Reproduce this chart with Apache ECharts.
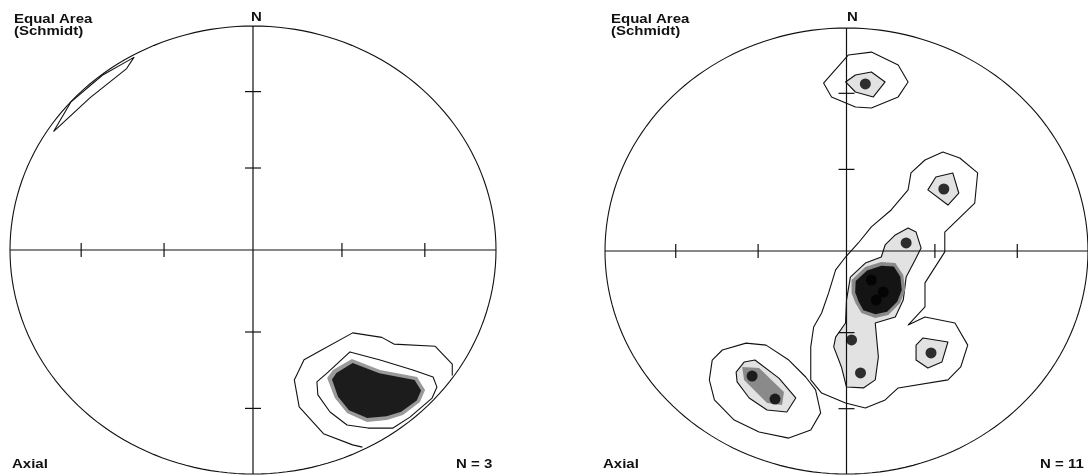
<!DOCTYPE html>
<html>
<head>
<meta charset="utf-8">
<script src="https://cdn.jsdelivr.net/npm/echarts@6/dist/echarts.min.js"></script>
<style>
html,body{margin:0;padding:0;background:#fff;}
#chart{width:1088px;height:476px;}
</style>
</head>
<body>
<div id="chart"></div>
<script>
// ---------- DATA (projected equal-area coordinates, unit circle = primitive) ----------
const tickAngles = [30, 60];            // dip ticks along the axes (degrees)
const projectionLabel = ['Equal Area', '(Schmidt)'];
const modeLabel = 'Axial';
const northLabel = 'N';
const countLeft = 3;
const countRight = 11;

// Left net: contour lines / levels
const leftLevel1 = [[0.82,-0.56],[0.82,-0.51],[0.75,-0.43],[0.58,-0.42],[0.53,-0.39],[0.41,-0.37],[0.26,-0.46],[0.21,-0.49],[0.17,-0.58],[0.19,-0.70],[0.29,-0.82],[0.41,-0.87],[0.45,-0.88]];
const leftLevel1Wrap = [[-0.49,0.86],[-0.52,0.81],[-0.67,0.68],[-0.79,0.56],[-0.82,0.53],[-0.75,0.66],[-0.62,0.78],[-0.49,0.86]];
const leftLevel2 = [[0.263,-0.589],[0.309,-0.545],[0.399,-0.455],[0.523,-0.491],[0.658,-0.536],[0.741,-0.567],[0.757,-0.612],[0.737,-0.661],[0.646,-0.746],[0.576,-0.795],[0.473,-0.795],[0.387,-0.781],[0.317,-0.723],[0.267,-0.647]];
const leftLevel3 = [[0.305,-0.571],[0.329,-0.536],[0.407,-0.487],[0.523,-0.536],[0.675,-0.567],[0.708,-0.625],[0.687,-0.679],[0.617,-0.737],[0.551,-0.759],[0.469,-0.768],[0.387,-0.728],[0.337,-0.661]];
const leftLevel4 = [[0.325,-0.578],[0.343,-0.549],[0.410,-0.505],[0.520,-0.550],[0.665,-0.580],[0.692,-0.627],[0.674,-0.672],[0.610,-0.722],[0.550,-0.742],[0.470,-0.750],[0.395,-0.715],[0.350,-0.655]];

// Right net: poles (N = 11)
const rightPoles = [[0.078,0.749],[0.403,0.278],[0.247,0.036],[0.103,-0.130],[0.152,-0.184],[0.123,-0.220],[0.021,-0.399],[0.058,-0.547],[0.350,-0.457],[-0.391,-0.561],[-0.296,-0.664]];

// Right net: contour levels
const rightLevel1 = [
  [[0.267,0.350],[0.325,0.408],[0.399,0.444],[0.469,0.417],[0.543,0.350],[0.531,0.215],[0.407,0.085],[0.407,-0.004],[0.325,-0.143],[0.325,-0.251],[0.255,-0.332],[0.325,-0.296],[0.449,-0.323],[0.502,-0.422],[0.473,-0.520],[0.420,-0.578],[0.214,-0.614],[0.160,-0.668],[0.078,-0.704],[-0.004,-0.682],[-0.103,-0.637],[-0.148,-0.578],[-0.148,-0.430],[-0.136,-0.341],[-0.103,-0.278],[-0.074,-0.188],[-0.045,-0.085],[-0.004,-0.027],[0.049,0.036],[0.103,0.108],[0.185,0.184],[0.255,0.274]],
  [[-0.095,0.753],[0.008,0.879],[0.103,0.892],[0.214,0.834],[0.255,0.758],[0.214,0.691],[0.103,0.641],[0.037,0.646],[-0.062,0.691]],
  [[-0.556,-0.489],[-0.514,-0.444],[-0.416,-0.413],[-0.333,-0.422],[-0.239,-0.489],[-0.169,-0.565],[-0.128,-0.623],[-0.107,-0.726],[-0.148,-0.803],[-0.239,-0.839],[-0.362,-0.812],[-0.465,-0.758],[-0.547,-0.668],[-0.568,-0.578]]
];
const rightLevel2 = [
  [[0.160,0.027],[0.202,0.072],[0.255,0.103],[0.288,0.085],[0.309,0.013],[0.284,-0.040],[0.247,-0.117],[0.235,-0.220],[0.202,-0.296],[0.119,-0.323],[0.132,-0.475],[0.119,-0.578],[0.070,-0.614],[0.000,-0.610],[-0.021,-0.520],[-0.053,-0.430],[-0.045,-0.386],[-0.004,-0.323],[0.000,-0.220],[0.016,-0.117],[0.078,-0.054],[0.144,-0.027]],
  [[0.337,0.274],[0.370,0.332],[0.440,0.350],[0.465,0.260],[0.420,0.206]],
  [[0.288,-0.422],[0.317,-0.390],[0.420,-0.408],[0.395,-0.498],[0.337,-0.525],[0.288,-0.489]],
  [[-0.004,0.758],[0.037,0.789],[0.103,0.803],[0.160,0.758],[0.111,0.691],[0.037,0.713]],
  [[-0.457,-0.543],[-0.424,-0.498],[-0.379,-0.489],[-0.280,-0.570],[-0.210,-0.659],[-0.247,-0.722],[-0.329,-0.713],[-0.403,-0.659],[-0.453,-0.587]]
];
const rightLevel3 = [
  [[0.021,-0.130],[0.078,-0.072],[0.144,-0.049],[0.202,-0.054],[0.235,-0.108],[0.243,-0.175],[0.222,-0.233],[0.173,-0.287],[0.119,-0.300],[0.062,-0.278],[0.037,-0.233],[0.021,-0.188]],
  [[-0.432,-0.520],[-0.362,-0.525],[-0.259,-0.632],[-0.267,-0.691],[-0.329,-0.682],[-0.424,-0.578]]
];
const rightLevel4 = [
  [[0.038,-0.135],[0.085,-0.088],[0.145,-0.066],[0.196,-0.070],[0.223,-0.115],[0.229,-0.175],[0.210,-0.228],[0.168,-0.272],[0.120,-0.284],[0.070,-0.266],[0.050,-0.226],[0.036,-0.185]]
];

// ---------- RENDERING ----------
const chart = echarts.init(document.getElementById('chart'), null, {renderer: 'canvas'});
const INK = '#111';

function netSeries(gi) {
  return {
    type: 'custom', xAxisIndex: gi, yAxisIndex: gi, silent: true, z: 5,
    data: [[0, 0]],
    renderItem: function (params, api) {
      const c = api.coord([0, 0]);
      const s = api.size([1, 1]);
      const pts = [];
      for (let a = 0; a <= 360; a += 2) {
        const t = a * Math.PI / 180;
        pts.push([c[0] + s[0] * Math.cos(t), c[1] - s[1] * Math.sin(t)]);
      }
      const children = [
        {type: 'polyline', shape: {points: pts}, style: {stroke: INK, lineWidth: 1.1, fill: null}},
        {type: 'line', shape: {x1: c[0] - s[0], y1: c[1], x2: c[0] + s[0], y2: c[1]}, style: {stroke: INK, lineWidth: 1.2}},
        {type: 'line', shape: {x1: c[0], y1: c[1] - s[1], x2: c[0], y2: c[1] + s[1]}, style: {stroke: INK, lineWidth: 1.2}}
      ];
      tickAngles.forEach(function (d) {
        const r = Math.SQRT2 * Math.sin(d / 2 * Math.PI / 180);
        [-1, 1].forEach(function (sg) {
          const px = api.coord([sg * r, 0]);
          children.push({type: 'line', shape: {x1: px[0], y1: px[1] - 7, x2: px[0], y2: px[1] + 7}, style: {stroke: INK, lineWidth: 1.2}});
          const py = api.coord([0, sg * r]);
          children.push({type: 'line', shape: {x1: py[0] - 8, y1: py[1], x2: py[0] + 8, y2: py[1]}, style: {stroke: INK, lineWidth: 1.2}});
        });
      });
      return {type: 'group', children: children};
    }
  };
}

function contourSeries(gi, polys, fill, stroke, closed, z) {
  return {
    type: 'custom', xAxisIndex: gi, yAxisIndex: gi, silent: true, z: z,
    data: polys.map(function () { return [0, 0]; }),
    renderItem: function (params, api) {
      const pts = polys[params.dataIndex].map(function (p) { return api.coord(p); });
      return {
        type: closed ? 'polygon' : 'polyline',
        shape: {points: pts},
        style: {fill: closed ? fill : null, stroke: stroke, lineWidth: 1.1, lineJoin: 'round'}
      };
    }
  };
}

const textFont = 'bold 15px "Liberation Sans", Arial, sans-serif';
function label(x, y, text) {
  return {type: 'text', x: x, y: y, scaleY: 0.82, silent: true,
    style: {text: text, font: textFont, fill: INK, textAlign: 'left', textVerticalAlign: 'top'}};
}

const option = {
  animation: false,
  backgroundColor: '#fff',
  grid: [
    {left: 10, top: 26, width: 486, height: 448},
    {left: 605, top: 28, width: 486, height: 446}
  ],
  xAxis: [
    {gridIndex: 0, type: 'value', min: -1, max: 1, show: false},
    {gridIndex: 1, type: 'value', min: -1, max: 1, show: false}
  ],
  yAxis: [
    {gridIndex: 0, type: 'value', min: -1, max: 1, show: false},
    {gridIndex: 1, type: 'value', min: -1, max: 1, show: false}
  ],
  graphic: [
    label(14, 13, projectionLabel[0]), label(14, 25, projectionLabel[1]),
    label(611, 13, projectionLabel[0]), label(611, 25, projectionLabel[1]),
    label(251, 11, northLabel), label(847, 11, northLabel),
    label(12, 458, modeLabel), label(603, 458, modeLabel),
    label(456, 458, 'N = ' + countLeft), label(1040, 458, 'N = ' + countRight)
  ],
  series: [
    contourSeries(0, [leftLevel1], null, INK, false, 2),
    contourSeries(0, [leftLevel1Wrap], null, INK, true, 2),
    contourSeries(0, [leftLevel2], '#ffffff', INK, true, 3),
    contourSeries(0, [leftLevel3], '#9a9a9a', null, true, 4),
    contourSeries(0, [leftLevel4], '#1c1c1c', null, true, 4),
    netSeries(0),
    contourSeries(1, rightLevel1, null, INK, true, 2),
    contourSeries(1, rightLevel2, '#e2e2e2', INK, true, 3),
    contourSeries(1, rightLevel3, '#8a8a8a', null, true, 4),
    contourSeries(1, rightLevel4, '#141414', null, true, 4),
    netSeries(1),
    {
      type: 'scatter', xAxisIndex: 1, yAxisIndex: 1, silent: true, z: 8,
      symbol: 'circle', symbolSize: 11,
      itemStyle: {color: '#000'},
      data: rightPoles
    }
  ]
};
chart.setOption(option);
</script>
</body>
</html>
